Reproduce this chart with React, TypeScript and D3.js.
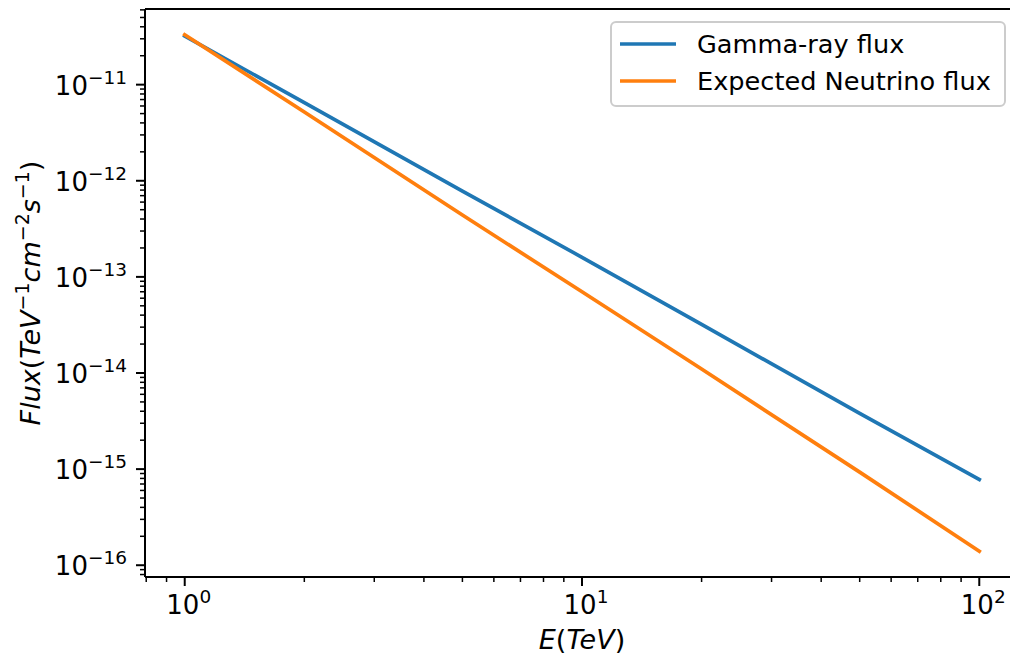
import React from 'react';
import * as d3 from 'd3';

// values (log-log plot)
const energy = [1, 2, 5, 10, 20, 50, 100];
const gammaFlux = [3.2e-11, 6.5e-12, 7.8e-13, 1.6e-13, 3.2e-14, 3.8e-15, 7.8e-16];
const neutrinoFlux = [3.3e-11, 5.2e-12, 4.4e-13, 7.0e-14, 1.1e-14, 9.3e-16, 1.4e-16];
const xTickExps = [0, 1, 2];
const yTickExps = [-16, -15, -14, -13, -12, -11];
const seriesNames = ['Gamma-ray flux', 'Expected Neutrino flux'];
const seriesColors = ['#1f77b4', '#ff7f0e'];

const W = 1010;
const H = 655;
const margin = { top: 9, right: -9, bottom: 78, left: 145 };
const FONT = 'DejaVu Sans, sans-serif';

// matplotlib-like 5% margins in log space
const logPad = (vals: number[]) => {
  const lo = Math.log10(d3.min(vals)!);
  const hi = Math.log10(d3.max(vals)!);
  const p = (hi - lo) * 0.05;
  return [Math.pow(10, lo - p), Math.pow(10, hi + p)];
};

const minorTicks = (domain: number[]) => {
  const out: number[] = [];
  const e0 = Math.floor(Math.log10(domain[0]));
  const e1 = Math.ceil(Math.log10(domain[1]));
  for (let e = e0; e <= e1; e++) {
    for (let m = 2; m <= 9; m++) {
      const v = m * Math.pow(10, e);
      if (v >= domain[0] && v <= domain[1]) out.push(v);
    }
  }
  return out;
};

const Pow10 = ({ exp, x, y, anchor }: { exp: number; x: number; y: number; anchor: string }) => (
  <text x={x} y={y} textAnchor={anchor} fontFamily={FONT} fontSize={26} fill="#000">
    10
    <tspan dy={-11} fontSize={18.5}>
      {exp < 0 ? '\u2212' + Math.abs(exp) : String(exp)}
    </tspan>
  </text>
);

const App: React.FC = () => {
  const xDomain = logPad(energy);
  const yDomain = logPad([...gammaFlux, ...neutrinoFlux]);

  const x = d3.scaleLog().domain(xDomain).range([margin.left, W - margin.right]);
  const y = d3.scaleLog().domain(yDomain).range([H - margin.bottom, margin.top]);

  const line = (vals: number[]) =>
    d3.line<number>()
      .x((_, i) => x(energy[i]))
      .y((d) => y(d))(vals) || '';

  const series = [gammaFlux, neutrinoFlux];
  const x0 = margin.left;
  const yb = H - margin.bottom;

  return (
    <svg width={W} height={H} style={{ position: 'absolute', left: 0, top: 0, background: '#fff' }}>
      <rect width={W} height={H} fill="#fff" />

      {/* data lines */}
      {series.map((s, i) => (
        <path key={i} d={line(s)} fill="none" stroke={seriesColors[i]} strokeWidth={3.7} strokeLinecap="square" />
      ))}

      {/* spines */}
      <line x1={x0} x2={W} y1={margin.top} y2={margin.top} stroke="#000" strokeWidth={2} />
      <line x1={x0} x2={x0} y1={margin.top} y2={yb} stroke="#000" strokeWidth={2} />
      <line x1={x0} x2={W} y1={yb} y2={yb} stroke="#000" strokeWidth={2} />

      {/* x ticks */}
      {minorTicks(xDomain).map((v) => (
        <line key={'xm' + v} x1={x(v)} x2={x(v)} y1={yb} y2={yb + 5} stroke="#000" strokeWidth={1.5} />
      ))}
      {xTickExps.map((e) => (
        <g key={'xt' + e}>
          <line x1={x(Math.pow(10, e))} x2={x(Math.pow(10, e))} y1={yb} y2={yb + 9} stroke="#000" strokeWidth={2} />
          <Pow10 exp={e} x={x(Math.pow(10, e)) + 4} y={yb + 37} anchor="middle" />
        </g>
      ))}

      {/* y ticks */}
      {minorTicks(yDomain).map((v) => (
        <line key={'ym' + v} x1={x0} x2={x0 - 5} y1={y(v)} y2={y(v)} stroke="#000" strokeWidth={1.5} />
      ))}
      {yTickExps.map((e) => (
        <g key={'yt' + e}>
          <line x1={x0} x2={x0 - 9} y1={y(Math.pow(10, e))} y2={y(Math.pow(10, e))} stroke="#000" strokeWidth={2} />
          <Pow10 exp={e} x={x0 - 18} y={y(Math.pow(10, e)) + 10} anchor="end" />
        </g>
      ))}

      {/* axis labels */}
      <text x={(x0 + (W - margin.right)) / 2} y={H - 6} textAnchor="middle" fontFamily={FONT} fontSize={27}>
        <tspan fontStyle="italic">E</tspan>(<tspan fontStyle="italic">TeV</tspan>)
      </text>
      <text
        transform={`translate(40,${(margin.top + yb) / 2}) rotate(-90)`}
        textAnchor="middle"
        fontFamily={FONT}
        fontSize={27}
      >
        <tspan fontStyle="italic">Flux</tspan>(<tspan fontStyle="italic">TeV</tspan>
        <tspan dy={-11} fontSize={19}>−1</tspan>
        <tspan dy={11} fontStyle="italic">cm</tspan>
        <tspan dy={-11} fontSize={19}>−2</tspan>
        <tspan dy={11} fontStyle="italic">s</tspan>
        <tspan dy={-11} fontSize={19}>−1</tspan>
        <tspan dy={11}>)</tspan>
      </text>

      {/* legend */}
      <rect x={611} y={22} width={394} height={84} rx={5} fill="#fff" fillOpacity={0.8} stroke="#ccc" strokeWidth={2} />
      {seriesNames.map((n, i) => (
        <g key={n}>
          <line x1={620} x2={676} y1={44 + i * 37} y2={44 + i * 37} stroke={seriesColors[i]} strokeWidth={3.7} />
          <text x={697} y={44 + i * 37 + 9} fontFamily={FONT} fontSize={25.6} fill="#000">
            {n}
          </text>
        </g>
      ))}
    </svg>
  );
};

export default App;
